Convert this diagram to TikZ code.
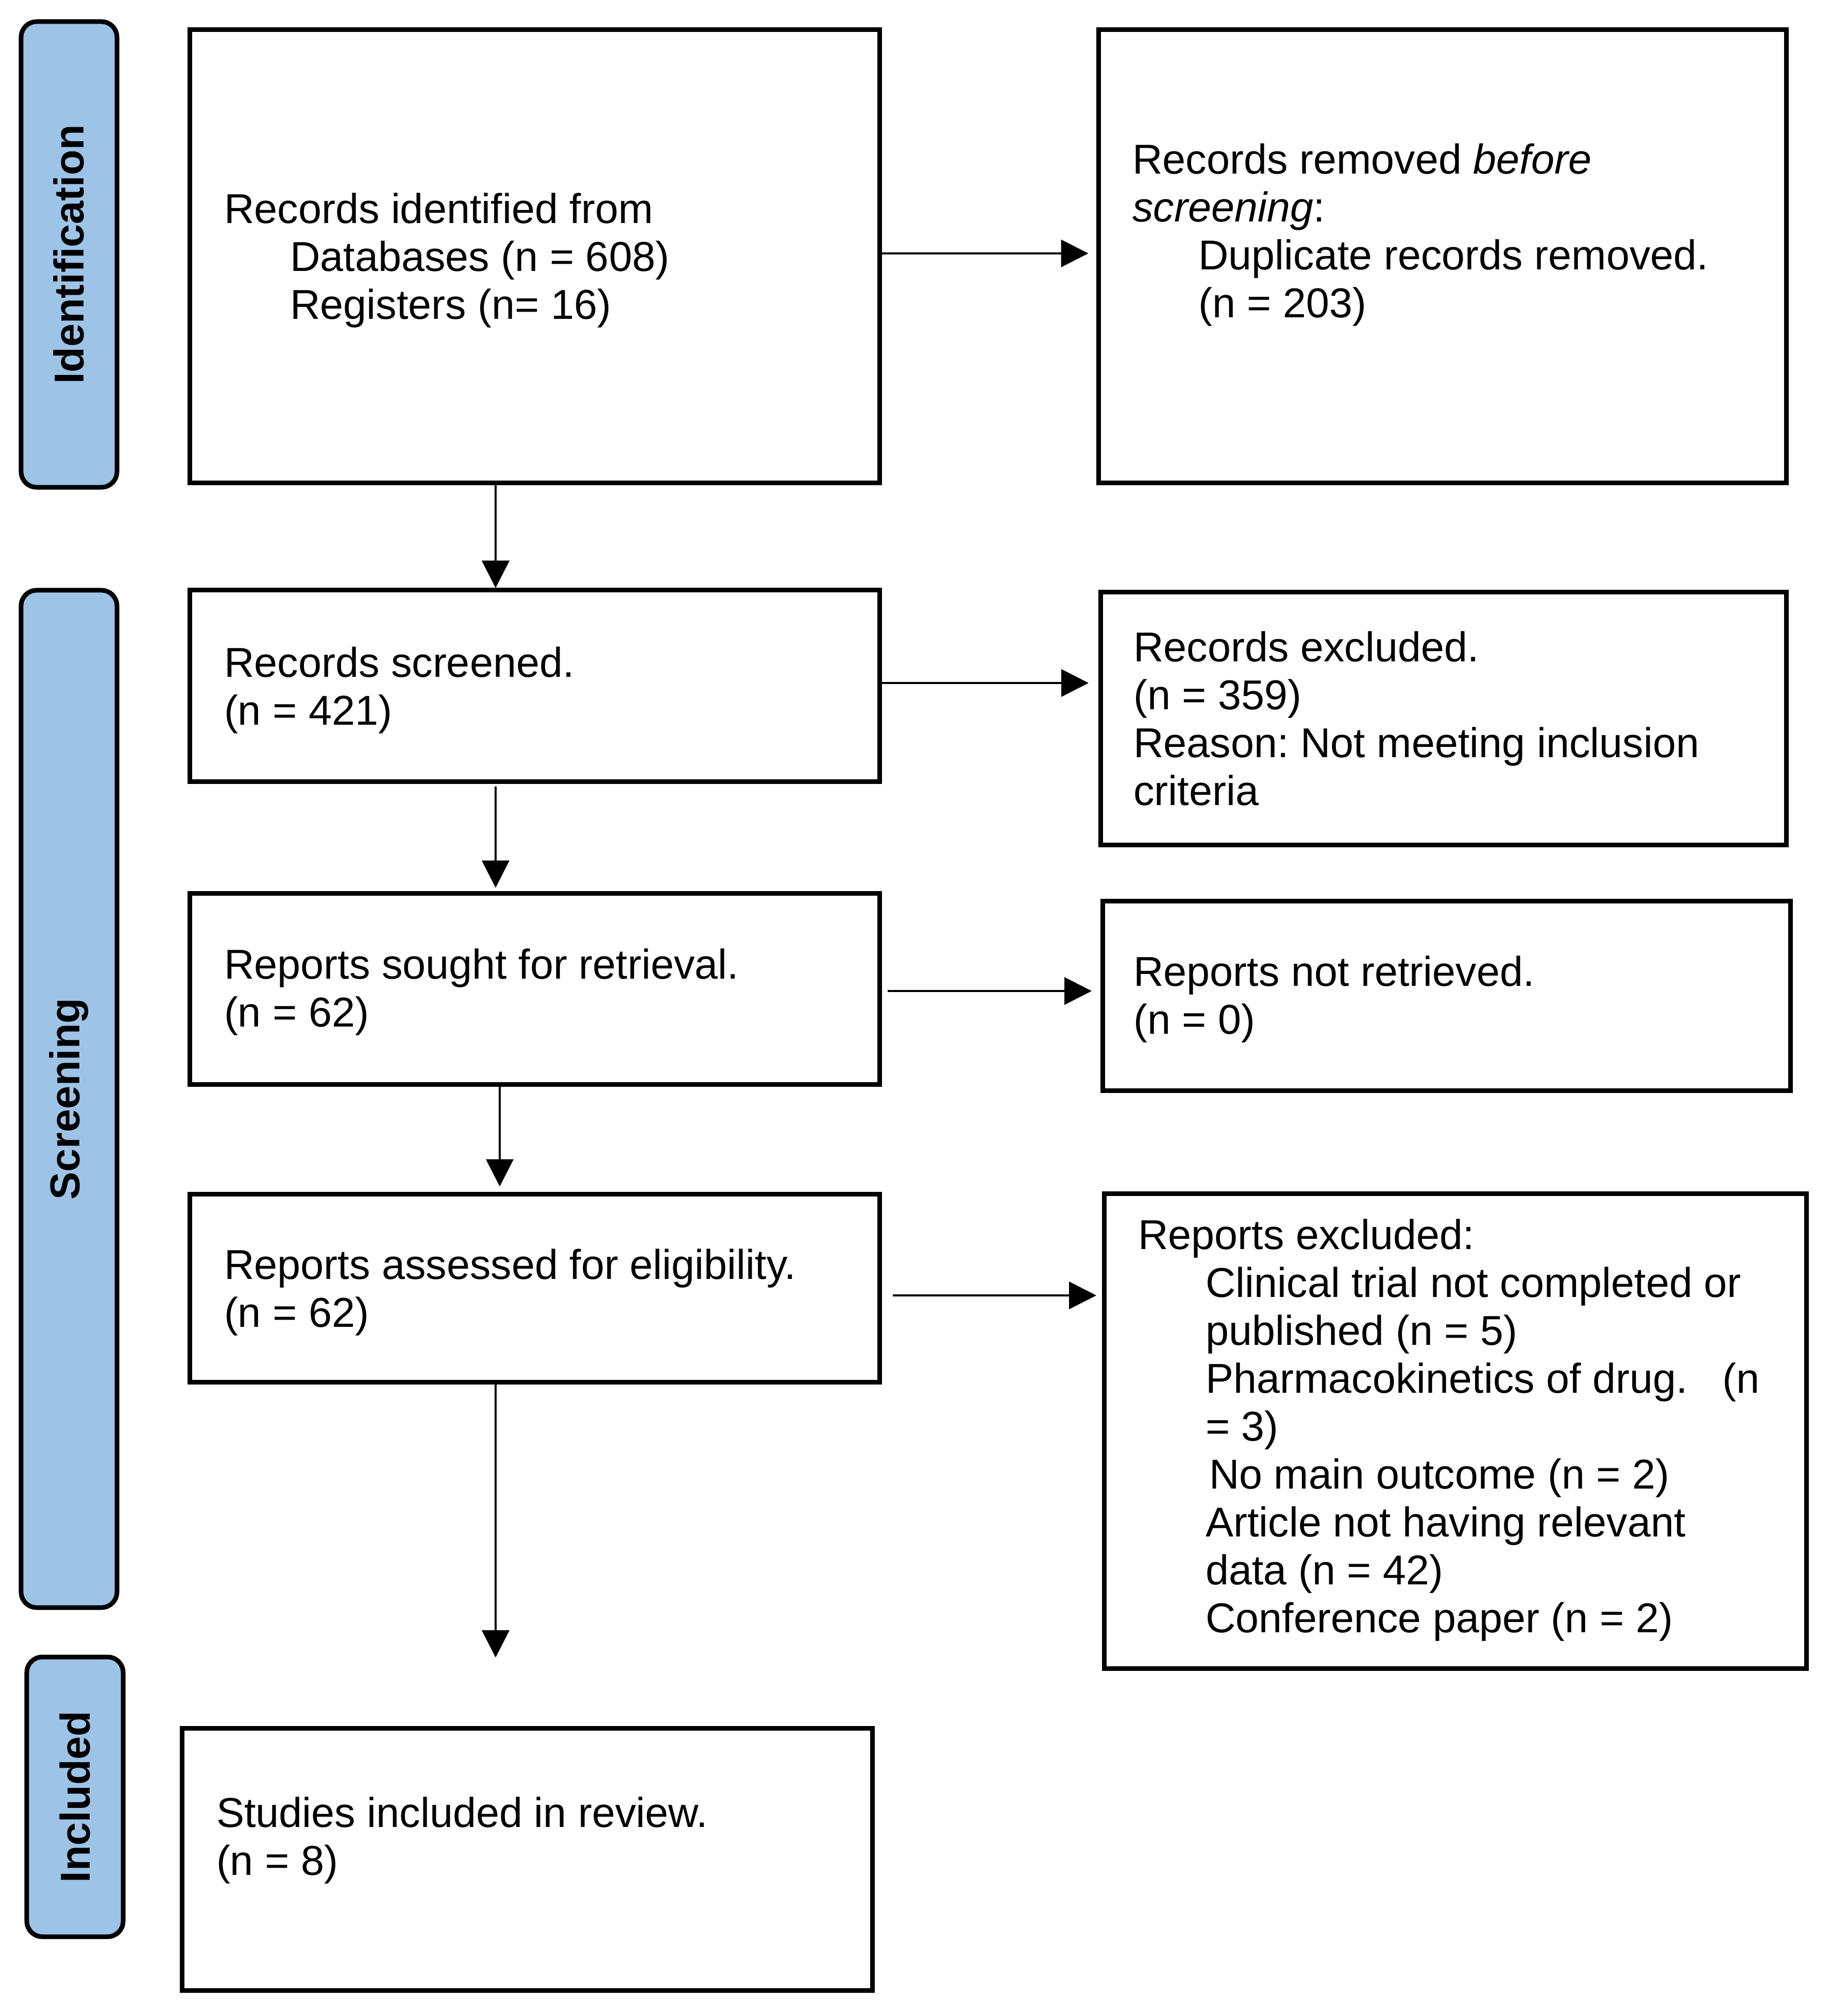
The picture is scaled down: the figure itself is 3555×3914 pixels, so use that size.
\documentclass[tikz,border=0pt]{standalone}
\usepackage{fontspec}
\setmainfont{Liberation Sans}
\usetikzlibrary{arrows.meta}
\definecolor{labelblue}{HTML}{9DC3E6}
\frenchspacing
\begin{document}
\begin{tikzpicture}[x=0.2pt,y=-0.2pt,
  box/.style={draw=black,line width=1.8pt,fill=white,inner sep=0pt},
  lbl/.style={draw=black,line width=1.8pt,fill=labelblue,rounded corners=6pt,inner sep=0pt,minimum width=37.2pt},
  lbltxt/.style={rotate=90,inner sep=0pt,font=\fontsize{16.2pt}{18.6pt}\selectfont\bfseries},
  txt/.style={anchor=base west,inner sep=0pt,font=\fontsize{16.2pt}{18.6pt}\selectfont\frenchspacing},
  arr/.style={line width=0.8pt,-{Triangle[length=10.6pt,width=10.6pt]}}]
\useasboundingbox (0,0) rectangle (3555,3914);
\fill[white] (0,0) rectangle (3555,3914);
\def\ind{\hspace*{25.6pt}}
% phase labels
\node[lbl,minimum height=180.8pt] (l1) at (134,494) {};
\node[lbltxt] (l1t) at (l1.center) {Identification};
\node[lbl,minimum height=395pt] (l2) at (134,2133.5) {};
\node[lbltxt] (l2t) at (l2.center) {Screening};
\node[lbl,minimum width=37.4pt,minimum height=108.6pt] (l3) at (145.5,3488.5) {};
\node[lbltxt] (l3t) at (l3.center) {Included};
% boxes
\node[box,minimum width=267.6pt,minimum height=175.8pt] (b1) at (1038,497.5) {};
\node[box,minimum width=267pt,minimum height=175.8pt] (b2) at (2799.5,497.5) {};
\node[box,minimum width=267.6pt,minimum height=74.2pt] (b3) at (1038,1331.5) {};
\node[box,minimum width=266.2pt,minimum height=98pt] (b5) at (2801.5,1395) {};
\node[box,minimum width=267.6pt,minimum height=74.2pt] (b4) at (1038,1919.5) {};
\node[box,minimum width=267pt,minimum height=73.6pt] (b6) at (2807.5,1933) {};
\node[box,minimum width=267.6pt,minimum height=73pt] (b7) at (1038,2500.5) {};
\node[box,minimum width=272.6pt,minimum height=184.4pt] (b9) at (2824.5,2778) {};
\node[box,minimum width=267.8pt,minimum height=101.8pt] (b8) at (1023.5,3609.5) {};
% texts
\node[txt] (t1) at (434,434) {\begin{tabular}[t]{@{}l@{}}Records identified from\\\ind Databases (n = 608)\\\ind Registers (n= 16)\end{tabular}};
\node[txt] (t2) at (2197,338) {\begin{tabular}[t]{@{}l@{}}Records removed \textit{before}\\\textit{screening}:\\\ind Duplicate records removed.\\\ind (n = 203)\end{tabular}};
\node[txt] (t3) at (434,1314) {\begin{tabular}[t]{@{}l@{}}Records screened.\\(n = 421)\end{tabular}};
\node[txt] (t5) at (2199,1284) {\begin{tabular}[t]{@{}l@{}}Records excluded.\\(n = 359)\\Reason: Not meeting inclusion\\criteria\end{tabular}};
\node[txt] (t4) at (434,1900) {\begin{tabular}[t]{@{}l@{}}Reports sought for retrieval.\\(n = 62)\end{tabular}};
\node[txt] (t6) at (2199,1914) {\begin{tabular}[t]{@{}l@{}}Reports not retrieved.\\(n = 0)\end{tabular}};
\node[txt] (t7) at (434,2483) {\begin{tabular}[t]{@{}l@{}}Reports assessed for eligibility.\\(n = 62)\end{tabular}};
\node[txt] (t9) at (2208,2425) {\begin{tabular}[t]{@{}l@{}}Reports excluded:\\
\hspace*{26.2pt}Clinical trial not completed or\\
\hspace*{26.2pt}published (n = 5)\\
\hspace*{26.2pt}Pharmacokinetics of drug.\hspace*{13.5pt}(n\\
\hspace*{26.2pt}= 3)\\
\hspace*{27.6pt}No main outcome (n = 2)\\
\hspace*{26.2pt}Article not having relevant\\
\hspace*{26.2pt}data (n = 42)\\
\hspace*{26.2pt}Conference paper (n = 2)\end{tabular}};
\node[txt] (t8) at (419,3547) {\begin{tabular}[t]{@{}l@{}}Studies included in review.\\(n = 8)\end{tabular}};
% connector helper coordinates
\coordinate (r1) at (0,492);
\coordinate (r2) at (0,1326);
\coordinate (r3) at (0,1924);
\coordinate (r4) at (0,2515);
\coordinate (c1) at (962,0);
\coordinate (c2) at (970,0);
\coordinate (end) at (962,3218);
% horizontal arrows
\draw[arr,shorten >=3pt] (b1.east |- r1) -- (b2.west |- r1);
\draw[arr,shorten >=3.7pt] (b3.east |- r2) -- (b5.west |- r2);
\draw[arr,shorten <=2.2pt,shorten >=3.3pt] (b4.east |- r3) -- (b6.west |- r3);
\draw[arr,shorten <=4.2pt,shorten >=2.1pt] (b7.east |- r4) -- (b9.west |- r4);
% vertical arrows
\draw[arr] (b1.south -| c1) -- (b3.north -| c1);
\draw[arr,shorten <=1.1pt,shorten >=1.2pt] (b3.south -| c1) -- (b4.north -| c1);
\draw[arr,shorten >=2pt] (b4.south -| c2) -- (b7.north -| c2);
\draw[arr] (b7.south -| c1) -- (end);
\end{tikzpicture}
\end{document}
